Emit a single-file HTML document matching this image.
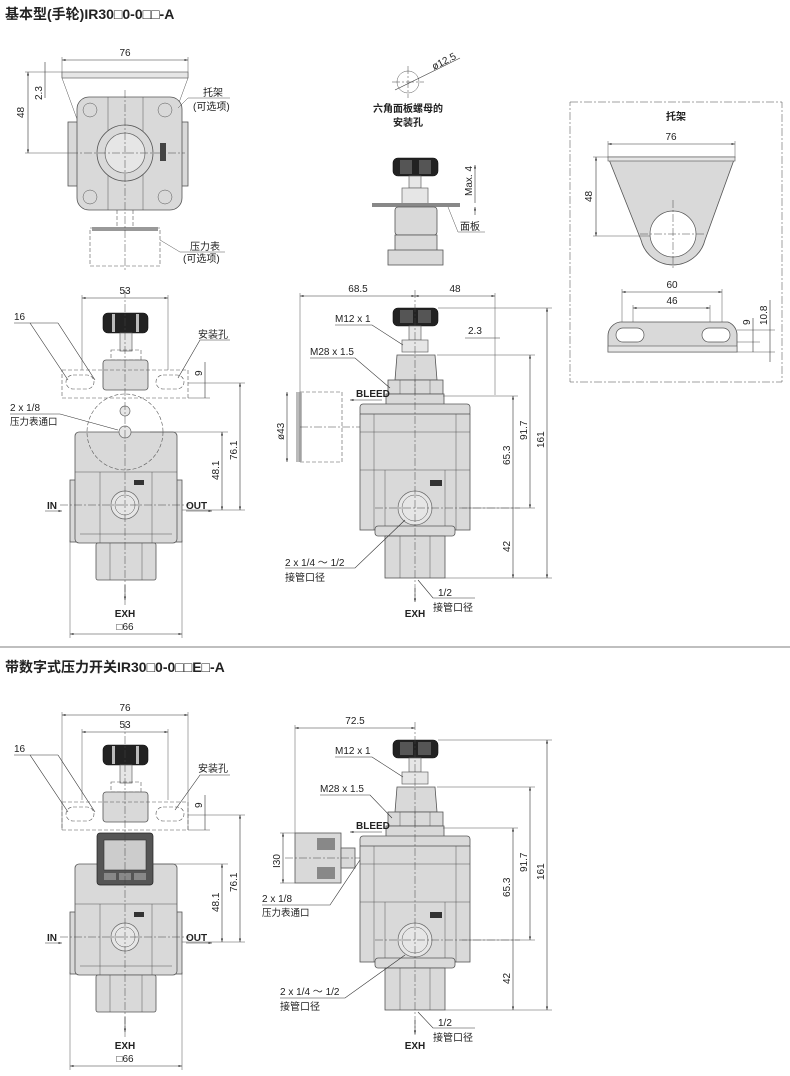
<!DOCTYPE html>
<html><head><meta charset="utf-8"><style>
html,body{margin:0;padding:0;background:#fff}
svg{display:block}
text{font-family:"Liberation Sans","Noto Sans CJK SC",sans-serif;fill:#222}
.t{font-size:14px;font-weight:bold}
.s{font-size:10px}
.c{font-size:9.5px}
.b{font-weight:bold}
.d{stroke:#333;stroke-width:.6;fill:none}
.ex{stroke:#555;stroke-width:.5;fill:none}
.p{fill:#d9d9d9;stroke:#555;stroke-width:.8}
.pl{fill:#e6e6e6;stroke:#666;stroke-width:.7}
.k{fill:#222;stroke:#111;stroke-width:.6}
.cl{stroke:#444;stroke-width:.5;stroke-dasharray:8 2 2 2;fill:none}
.dash{stroke:#555;stroke-width:.6;stroke-dasharray:4 2;fill:none}
</style></head><body>
<svg width="790" height="1076" viewBox="0 0 790 1076" xmlns="http://www.w3.org/2000/svg">
<defs>
<marker id="a" viewBox="0 0 10 10" refX="10" refY="5" markerWidth="6" markerHeight="6" orient="auto-start-reverse"><path d="M0,2 L10,5 L0,8z" fill="#333"/></marker>
<g id="front">
  <rect class="k" x="103" y="313" width="45" height="20" rx="5"/>
  <rect x="112" y="314" width="3" height="18" fill="#bbb"/><rect x="136" y="314" width="3" height="18" fill="#bbb"/>
  <rect class="pl" x="120" y="333" width="12" height="18"/>
  <rect class="dash" x="111" y="350" width="30" height="10"/>
  <rect class="p" x="103" y="360" width="45" height="30" rx="3"/>
  <rect class="p" x="70" y="480" width="112" height="62"/>
  <rect class="p" x="75" y="432" width="102" height="111" rx="4"/>
  <path class="ex" d="M75,472 H177 M100,472 V543 M152,472 V543 M80,534 H172"/>
  <rect class="p" x="96" y="543" width="60" height="37" rx="2"/>
  <path class="ex" d="M110,543 V580 M142,543 V580"/>
  <circle class="pl" cx="125" cy="505" r="14"/><circle class="ex" cx="125" cy="505" r="10"/>
  <rect x="134" y="480" width="10" height="5" fill="#333"/>
</g>
<g id="side">
  <rect class="k" x="393" y="308" width="45" height="18" rx="5"/>
  <rect x="400" y="310" width="13" height="13" fill="#555"/><rect x="418" y="310" width="13" height="13" fill="#555"/>
  <rect class="pl" x="409" y="326" width="12" height="14"/>
  <rect class="pl" x="402" y="340" width="26" height="12"/>
  <path class="p" d="M397,355 H435 L437,380 H395 Z"/>
  <rect class="p" x="388" y="380" width="55" height="14"/>
  <path class="ex" d="M400,380 V394 M415,380 V394 M430,380 V394"/>
  <rect class="p" x="386" y="394" width="58" height="20"/>
  <rect class="p" x="360" y="404" width="110" height="12" rx="3"/>
  <rect class="p" x="360" y="414" width="110" height="116"/>
  <path class="ex" d="M360,432 H470 M360,470 H470 M385,470 V530 M445,470 V530 M374,414 V530 M456,414 V530"/>
  <rect class="p" x="375" y="526" width="80" height="10" rx="3"/>
  <rect class="p" x="385" y="536" width="60" height="42"/>
  <path class="ex" d="M400,536 V578 M430,536 V578"/>
  <circle class="pl" cx="415" cy="508" r="17"/><circle class="ex" cx="415" cy="508" r="13"/>
  <rect x="430" y="480" width="12" height="6" fill="#333"/>
</g>
</defs>

<text class="t" x="5" y="19">基本型(手轮)IR30<tspan font-weight="normal">□</tspan>0-0<tspan font-weight="normal">□□</tspan>-A</text>

<line class="d" x1="62" y1="60" x2="188" y2="60" marker-start="url(#a)" marker-end="url(#a)"/>
<text class="s" x="125" y="56" text-anchor="middle">76</text>
<path class="ex" d="M62,57 V78 M188,57 V78"/>
<rect class="pl" x="62" y="72" width="126" height="6"/>
<path class="ex" d="M62,78 L92,160 M188,78 L158,160"/>
<rect class="p" x="68" y="122" width="120" height="64"/>
<rect class="p" x="77" y="97" width="105" height="113" rx="12"/>
<path class="ex" d="M108,97 V210 M143,97 V210"/>
<circle class="ex" cx="90" cy="110" r="7"/><circle class="ex" cx="165" cy="110" r="7"/>
<circle class="ex" cx="90" cy="197" r="7"/><circle class="ex" cx="165" cy="197" r="7"/>
<circle class="p" cx="125" cy="153" r="28"/><circle class="pl" cx="125" cy="153" r="20"/>
<rect x="160" y="143" width="6" height="18" fill="#444"/>
<path class="dash" d="M117,210 V228 M133,210 V228"/>
<rect class="dash" x="90" y="228" width="70" height="38"/>
<rect x="92" y="227" width="66" height="4" fill="#999"/>
<line class="cl" x1="125" y1="90" x2="125" y2="270"/>
<line class="cl" x1="70" y1="153" x2="185" y2="153"/>
<line class="d" x1="28" y1="72" x2="28" y2="153" marker-start="url(#a)" marker-end="url(#a)"/>
<path class="ex" d="M25,72 H62 M25,153 H70"/>
<text class="s" transform="translate(24,118) rotate(-90)">48</text>
<line class="d" x1="45" y1="62" x2="45" y2="98"/>
<text class="s" transform="translate(42,100) rotate(-90)">2.3</text>
<path class="ex" d="M178,108 L188,98 H230"/><text class="s" x="203" y="96">托架</text>
<text class="s" x="193" y="110">(可选项)</text>
<path class="ex" d="M160,240 L180,252 H225"/><text class="s" x="190" y="250">压力表</text>
<text class="s" x="183" y="262">(可选项)</text>

<circle class="ex" cx="408" cy="82" r="11"/>
<path class="cl" d="M408,66 V98 M392,82 H424"/>
<line class="d" x1="395" y1="90" x2="460" y2="58"/>
<text class="s" transform="translate(434,70) rotate(-27)">ø12.5</text>
<text class="s b" x="408" y="112" text-anchor="middle">六角面板螺母的</text>
<text class="s b" x="408" y="126" text-anchor="middle">安装孔</text>
<rect class="k" x="393" y="158" width="45" height="18" rx="5"/>
<rect x="400" y="160" width="12" height="14" fill="#555"/><rect x="419" y="160" width="12" height="14" fill="#555"/>
<rect class="pl" x="409" y="176" width="12" height="12"/>
<rect class="pl" x="402" y="188" width="26" height="16"/>
<rect x="372" y="203" width="88" height="4" fill="#888"/>
<rect class="p" x="395" y="207" width="42" height="28" rx="3"/>
<rect class="p" x="395" y="235" width="42" height="17"/>
<rect class="p" x="388" y="250" width="55" height="15"/>
<line class="d" x1="475" y1="165" x2="475" y2="203" marker-start="url(#a)"/>
<line class="d" x1="475" y1="207" x2="475" y2="215" marker-start="url(#a)"/>
<text class="s" transform="translate(472,196) rotate(-90)">Max. 4</text>
<path class="ex" d="M448,207 L458,232 H485"/><text class="s" x="460" y="230">面板</text>

<rect class="cl" x="570" y="102" width="212" height="280"/>
<text class="s b" x="676" y="120" text-anchor="middle">托架</text>
<line class="d" x1="608" y1="144" x2="735" y2="144" marker-start="url(#a)" marker-end="url(#a)"/>
<text class="s" x="671" y="140" text-anchor="middle">76</text>
<path class="ex" d="M608,141 V157 M735,141 V157"/>
<path class="p" d="M608,157 H735 L705,240 A33,33 0 0 1 641,240 Z"/>
<rect class="pl" x="608" y="157" width="127" height="4"/>
<circle fill="#fff" stroke="#555" stroke-width=".7" cx="673" cy="234" r="23"/>
<path class="cl" d="M673,200 V270 M640,234 H706"/>
<line class="d" x1="596" y1="157" x2="596" y2="236" marker-start="url(#a)" marker-end="url(#a)"/>
<path class="ex" d="M593,157 H608 M593,236 H650"/>
<text class="s" transform="translate(592,202) rotate(-90)">48</text>
<line class="d" x1="622" y1="292" x2="722" y2="292" marker-start="url(#a)" marker-end="url(#a)"/>
<text class="s" x="672" y="288" text-anchor="middle">60</text>
<line class="d" x1="633" y1="308" x2="710" y2="308" marker-start="url(#a)" marker-end="url(#a)"/>
<text class="s" x="672" y="304" text-anchor="middle">46</text>
<path class="ex" d="M622,289 V335 M722,289 V335 M633,305 V335 M710,305 V335"/>
<path class="p" d="M620,322 H728 A14,14 0 0 1 737,336 V352 H608 V336 A14,14 0 0 1 620,322 Z"/>
<rect class="pl" x="608" y="346" width="129" height="6"/>
<rect fill="#fff" stroke="#555" stroke-width=".7" x="616" y="328" width="28" height="14" rx="7"/>
<rect fill="#fff" stroke="#555" stroke-width=".7" x="702" y="328" width="28" height="14" rx="7"/>
<path class="ex" d="M737,330 H775 M737,342 H760 M737,352 H775"/>
<line class="d" x1="753" y1="318" x2="753" y2="352"/>
<line class="d" x1="770" y1="300" x2="770" y2="362"/>
<text class="s" transform="translate(750,325) rotate(-90)">9</text>
<text class="s" transform="translate(767,325) rotate(-90)">10.8</text>

<line class="d" x1="82" y1="298" x2="168" y2="298" marker-start="url(#a)" marker-end="url(#a)"/>
<text class="s" x="125" y="294" text-anchor="middle">53</text>
<path class="ex" d="M82,295 V370 M168,295 V370"/>
<use href="#front"/>
<rect class="dash" x="62" y="370" width="126" height="28"/>
<rect class="dash" x="66" y="375" width="28" height="14" rx="7"/><rect class="dash" x="156" y="375" width="28" height="14" rx="7"/>
<circle class="dash" cx="125" cy="432" r="38" stroke="#999"/>
<circle class="pl" cx="125" cy="411" r="5"/><circle class="pl" cx="125" cy="432" r="6"/>
<line class="cl" x1="125" y1="290" x2="125" y2="605"/>
<line class="cl" x1="60" y1="505" x2="190" y2="505"/>
<line class="d" x1="14" y1="323" x2="58" y2="323"/><text class="s" x="14" y="320">16</text>
<path class="d" d="M30,323 L68,380 M58,323 L95,380"/>
<path class="d" d="M230,340 H200 L178,378"/><text class="s" x="198" y="338">安装孔</text>
<path class="ex" d="M188,383 H245 M150,432 H228 M182,510 H245 M188,398 H210"/>
<line class="d" x1="240" y1="383" x2="240" y2="510" marker-start="url(#a)" marker-end="url(#a)"/>
<text class="s" transform="translate(237,460) rotate(-90)">76.1</text>
<line class="d" x1="222" y1="432" x2="222" y2="510" marker-start="url(#a)" marker-end="url(#a)"/>
<text class="s" transform="translate(219,480) rotate(-90)">48.1</text>
<line class="d" x1="205" y1="362" x2="205" y2="398"/>
<text class="s" transform="translate(202,376) rotate(-90)">9</text>
<path class="d" d="M10,414 H60 L118,430"/>
<text class="s" x="10" y="411">2 x 1/8</text><text class="c" x="10" y="425" font-size="8.5">压力表通口</text>
<line class="d" x1="45" y1="511" x2="62" y2="511" marker-end="url(#a)"/><text class="s b" x="47" y="509">IN</text>
<line class="d" x1="186" y1="511" x2="212" y2="511" marker-end="url(#a)"/><text class="s b" x="186" y="509">OUT</text>
<line class="d" x1="125" y1="585" x2="125" y2="600" marker-end="url(#a)"/>
<text class="s b" x="125" y="617" text-anchor="middle">EXH</text>
<text class="s" x="125" y="630" text-anchor="middle">□66</text>
<path class="ex" d="M70,540 V638 M182,540 V638"/>
<line class="d" x1="70" y1="634" x2="182" y2="634" marker-start="url(#a)" marker-end="url(#a)"/>

<use href="#side"/>
<rect class="dash" x="300" y="392" width="42" height="70"/>
<rect x="296" y="392" width="6" height="70" fill="#bbb"/>
<line class="cl" x1="415" y1="290" x2="415" y2="600"/>
<line class="cl" x1="300" y1="427" x2="360" y2="427"/>
<line class="cl" x1="375" y1="508" x2="520" y2="508"/>
<line class="d" x1="300" y1="296" x2="415" y2="296" marker-start="url(#a)" marker-end="url(#a)"/>
<line class="d" x1="415" y1="296" x2="495" y2="296" marker-start="url(#a)" marker-end="url(#a)"/>
<text class="s" x="358" y="292" text-anchor="middle">68.5</text><text class="s" x="455" y="292" text-anchor="middle">48</text>
<path class="ex" d="M300,293 V462 M495,293 V395 M438,308 H552 M437,355 H535 M443,396 H518 M445,578 H552 M462,508 H535"/>
<line class="d" x1="287" y1="392" x2="287" y2="462" marker-start="url(#a)" marker-end="url(#a)"/>
<text class="s" transform="translate(284,440) rotate(-90)">ø43</text>
<line class="d" x1="465" y1="338" x2="500" y2="338"/><text class="s" x="468" y="334">2.3</text>
<line class="d" x1="547" y1="308" x2="547" y2="578" marker-start="url(#a)" marker-end="url(#a)"/>
<text class="s" transform="translate(544,448) rotate(-90)">161</text>
<line class="d" x1="530" y1="355" x2="530" y2="508" marker-start="url(#a)" marker-end="url(#a)"/>
<text class="s" transform="translate(527,440) rotate(-90)">91.7</text>
<line class="d" x1="513" y1="396" x2="513" y2="578" marker-start="url(#a)" marker-end="url(#a)"/>
<text class="s" transform="translate(510,465) rotate(-90)">65.3</text>
<text class="s" transform="translate(510,552) rotate(-90)">42</text>
<path class="d" d="M335,325 H372 L403,345"/><text class="s" x="335" y="322">M12 x 1</text>
<path class="d" d="M310,358 H355 L390,388"/><text class="s" x="310" y="355">M28 x 1.5</text>
<line class="d" x1="382" y1="400" x2="350" y2="400" marker-end="url(#a)"/><text class="s b" x="356" y="397">BLEED</text>
<path class="d" d="M285,568 H355 L405,520"/><text class="s" x="285" y="566">2 x 1/4 ～ 1/2</text><text class="s" x="285" y="581">接管口径</text>
<path class="d" d="M418,580 L433,598 H475"/><text class="s" x="438" y="596">1/2</text><text class="s" x="433" y="611">接管口径</text>
<line class="d" x1="415" y1="588" x2="415" y2="602" marker-end="url(#a)"/>
<text class="s b" x="415" y="617" text-anchor="middle">EXH</text>

<line x1="0" y1="647" x2="790" y2="647" stroke="#aaa" stroke-width="1.5"/>
<text class="t" x="5" y="672">带数字式压力开关IR30<tspan font-weight="normal">□</tspan>0-0<tspan font-weight="normal">□□</tspan>E<tspan font-weight="normal">□</tspan>-A</text>

<line class="d" x1="62" y1="715" x2="188" y2="715" marker-start="url(#a)" marker-end="url(#a)"/>
<text class="s" x="125" y="711" text-anchor="middle">76</text>
<line class="d" x1="82" y1="732" x2="168" y2="732" marker-start="url(#a)" marker-end="url(#a)"/>
<text class="s" x="125" y="728" text-anchor="middle">53</text>
<path class="ex" d="M62,712 V830 M188,712 V830 M82,729 V800 M168,729 V800"/>
<use href="#front" transform="translate(0,432)"/>
<rect class="dash" x="62" y="802" width="126" height="28"/>
<rect class="dash" x="66" y="807" width="28" height="14" rx="7"/><rect class="dash" x="156" y="807" width="28" height="14" rx="7"/>
<rect fill="#555" stroke="#222" stroke-width=".7" x="97" y="833" width="56" height="52" rx="3"/>
<rect fill="#ccc" stroke="#333" stroke-width=".6" x="104" y="840" width="42" height="30"/>
<rect x="104" y="873" width="12" height="7" fill="#888"/><rect x="119" y="873" width="12" height="7" fill="#888"/><rect x="134" y="873" width="12" height="7" fill="#888"/>
<line class="cl" x1="125" y1="722" x2="125" y2="1037"/>
<line class="cl" x1="60" y1="937" x2="190" y2="937"/>
<line class="d" x1="14" y1="755" x2="58" y2="755"/><text class="s" x="14" y="752">16</text>
<path class="d" d="M30,755 L68,812 M58,755 L95,812"/>
<path class="d" d="M230,775 H200 L175,810"/><text class="s" x="198" y="772">安装孔</text>
<path class="ex" d="M188,815 H245 M150,864 H228 M182,942 H245 M188,830 H210"/>
<line class="d" x1="240" y1="815" x2="240" y2="942" marker-start="url(#a)" marker-end="url(#a)"/>
<text class="s" transform="translate(237,892) rotate(-90)">76.1</text>
<line class="d" x1="222" y1="864" x2="222" y2="942" marker-start="url(#a)" marker-end="url(#a)"/>
<text class="s" transform="translate(219,912) rotate(-90)">48.1</text>
<line class="d" x1="205" y1="795" x2="205" y2="830"/>
<text class="s" transform="translate(202,808) rotate(-90)">9</text>
<line class="d" x1="45" y1="943" x2="62" y2="943" marker-end="url(#a)"/><text class="s b" x="47" y="941">IN</text>
<line class="d" x1="186" y1="943" x2="212" y2="943" marker-end="url(#a)"/><text class="s b" x="186" y="941">OUT</text>
<line class="d" x1="125" y1="1017" x2="125" y2="1032" marker-end="url(#a)"/>
<text class="s b" x="125" y="1049" text-anchor="middle">EXH</text>
<text class="s" x="125" y="1062" text-anchor="middle">□66</text>
<path class="ex" d="M70,972 V1070 M182,972 V1070"/>
<line class="d" x1="70" y1="1066" x2="182" y2="1066" marker-start="url(#a)" marker-end="url(#a)"/>

<use href="#side" transform="translate(0,432)"/>
<rect class="p" x="295" y="833" width="46" height="50"/>
<rect x="317" y="838" width="18" height="12" fill="#888"/><rect x="317" y="867" width="18" height="12" fill="#888"/>
<rect class="p" x="341" y="848" width="14" height="20"/>
<line class="cl" x1="415" y1="722" x2="415" y2="1035"/>
<line class="cl" x1="285" y1="858" x2="360" y2="858"/>
<line class="cl" x1="375" y1="940" x2="520" y2="940"/>
<line class="d" x1="295" y1="728" x2="415" y2="728" marker-start="url(#a)" marker-end="url(#a)"/>
<text class="s" x="355" y="724" text-anchor="middle">72.5</text>
<path class="ex" d="M295,725 V833 M438,740 H552 M437,787 H535 M443,828 H518 M445,1010 H552 M462,940 H535 M280,833 H295 M280,883 H295"/>
<line class="d" x1="283" y1="833" x2="283" y2="883" marker-start="url(#a)" marker-end="url(#a)"/>
<text class="s" transform="translate(280,868) rotate(-90)">I30</text>
<line class="d" x1="547" y1="740" x2="547" y2="1010" marker-start="url(#a)" marker-end="url(#a)"/>
<text class="s" transform="translate(544,880) rotate(-90)">161</text>
<line class="d" x1="530" y1="787" x2="530" y2="940" marker-start="url(#a)" marker-end="url(#a)"/>
<text class="s" transform="translate(527,872) rotate(-90)">91.7</text>
<line class="d" x1="513" y1="828" x2="513" y2="1010" marker-start="url(#a)" marker-end="url(#a)"/>
<text class="s" transform="translate(510,897) rotate(-90)">65.3</text>
<text class="s" transform="translate(510,984) rotate(-90)">42</text>
<path class="d" d="M335,757 H372 L403,777"/><text class="s" x="335" y="754">M12 x 1</text>
<path class="d" d="M320,795 H370 L392,818"/><text class="s" x="320" y="792">M28 x 1.5</text>
<line class="d" x1="382" y1="832" x2="350" y2="832" marker-end="url(#a)"/><text class="s b" x="356" y="829">BLEED</text>
<path class="d" d="M262,905 H330 L360,860"/><text class="s" x="262" y="902">2 x 1/8</text><text class="c" x="262" y="916" font-size="8.5">压力表通口</text>
<path class="d" d="M280,998 H345 L405,955"/><text class="s" x="280" y="995">2 x 1/4 ～ 1/2</text><text class="s" x="280" y="1010">接管口径</text>
<path class="d" d="M418,1012 L433,1028 H475"/><text class="s" x="438" y="1026">1/2</text><text class="s" x="433" y="1041">接管口径</text>
<line class="d" x1="415" y1="1020" x2="415" y2="1034" marker-end="url(#a)"/>
<text class="s b" x="415" y="1049" text-anchor="middle">EXH</text>
</svg>
</body></html>
